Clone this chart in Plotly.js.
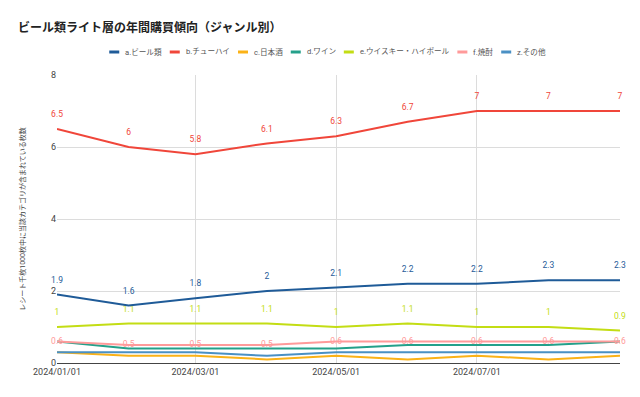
<!DOCTYPE html>
<html>
<head>
<meta charset="utf-8">
<script src="https://cdn.plot.ly/plotly-3.0.1.min.js"></script>
<style>html,body{margin:0;padding:0;background:#fff;}#chart{width:640px;height:397px;}</style>
</head>
<body>
<div id="chart"></div>
<script>
// ---- data ----
const months = ['2024-01-01','2024-02-01','2024-03-01','2024-04-01','2024-05-01','2024-06-01','2024-07-01','2024-08-01','2024-09-01'];
const seriesNames = ['a.ビール類','b.チューハイ','c.日本酒','d.ワイン','e.ウイスキー・ハイボール','f.焼酎','z.その他'];
const beer     = [1.9, 1.6, 1.8, 2, 2.1, 2.2, 2.2, 2.3, 2.3];
const chuhai   = [6.5, 6, 5.8, 6.1, 6.3, 6.7, 7, 7, 7];
const sake     = [0.3, 0.2, 0.2, 0.1, 0.2, 0.1, 0.2, 0.1, 0.2];
const wine     = [0.6, 0.4, 0.4, 0.4, 0.4, 0.5, 0.5, 0.5, 0.6];
const whisky   = [1, 1.1, 1.1, 1.1, 1, 1.1, 1, 1, 0.9];
const shochu   = [0.6, 0.5, 0.5, 0.5, 0.6, 0.6, 0.6, 0.6, 0.6];
const other    = [0.3, 0.3, 0.3, 0.2, 0.3, 0.3, 0.3, 0.3, 0.3];
const xTickVals = ['2024-01-01','2024-03-01','2024-05-01','2024-07-01','2024-09-01'];
const xTickText = ['2024/01/01','2024/03/01','2024/05/01','2024/07/01',''];
const yTickVals = [0, 2, 4, 6, 8];

// ---- style ----
const colors = ['#1f5b98','#f0463a','#fbb217','#24a08a','#c3dd14','#ff9a9a','#4a90c4'];
const showLabels = [true, true, false, false, true, true, false];
const labelPos = ['top center','top center','top center','top center','top center','middle center','top center'];
const FONT = 'Roboto, "Noto Sans CJK JP", sans-serif';
const allValues = [beer, chuhai, sake, wine, whisky, shochu, other];

const M = {l:57, r:20, t:75, b:34};
const W = 640, H = 397;
const plotW = W - M.l - M.r, plotH = H - M.t - M.b;

// draw order: background lines first so labelled ones are on top
const order = [2, 6, 3, 4, 5, 0, 1];
const traces = order.map(i => ({
  type: 'scatter',
  x: months,
  y: allValues[i],
  name: seriesNames[i],
  mode: showLabels[i] ? 'lines+markers+text' : 'lines',
  line: {color: colors[i], width: 2},
  marker: {size: labelPos[i] === 'middle center' ? 0 : 14, color: 'rgba(0,0,0,0)'},
  text: allValues[i].map(v => String(v)),
  textposition: labelPos[i],
  textfont: {family: FONT, size: 8.5, color: colors[i]},
  cliponaxis: false,
  showlegend: false,
  hoverinfo: 'skip'
}));

// ---- custom legend (annotations + short line shapes) ----
const cvs = document.createElement('canvas').getContext('2d');
const legFont = 7.6;
cvs.font = legFont + 'px Roboto, "Noto Sans CJK JP", sans-serif';
const symW = 10, gap1 = 4, gap2 = 10;
const widths = seriesNames.map(n => cvs.measureText(n).width);
const total = widths.reduce((s, w) => s + symW + gap1 + w, 0) + gap2 * (seriesNames.length - 1);
let px = 326.5 - total / 2;
const legY = 52;
const toPX = p => (p - M.l) / plotW;
const toPY = p => (H - M.b - p) / plotH;
const annotations = [], shapes = [];
seriesNames.forEach((n, i) => {
  shapes.push({type:'line', xref:'paper', yref:'paper', x0: toPX(px), x1: toPX(px + symW), y0: toPY(legY), y1: toPY(legY), line:{color: colors[i], width: 3}});
  annotations.push({xref:'paper', yref:'paper', x: toPX(px + symW + gap1), y: toPY(legY), xanchor:'left', yanchor:'middle', showarrow:false, text:n, font:{family: FONT, size: legFont, color:'#555'}});
  px += symW + gap1 + widths[i] + gap2;
});

const layout = {
  width: W, height: H,
  margin: M,
  paper_bgcolor: '#fff', plot_bgcolor: '#fff',
  showlegend: false,
  title: {
    text: 'ビール類ライト層の年間購買傾向（ジャンル別）',
    x: 18 / W, xref: 'container', xanchor: 'left',
    y: 1 - 28 / H, yref: 'container', yanchor: 'middle',
    font: {family: FONT, size: 12, color: '#222', weight: 'bold'}
  },
  xaxis: {
    type: 'date',
    range: ['2024-01-01', '2024-09-01'],
    tickmode: 'array', tickvals: xTickVals, ticktext: xTickText,
    showgrid: true, gridcolor: '#dcdcdc', gridwidth: 1,
    showline: true, linecolor: '#444', linewidth: 1,
    ticks: '', zeroline: false,
    tickfont: {family: FONT, size: 9, color: '#444'}
  },
  yaxis: {
    range: [0, 8],
    tickmode: 'array', tickvals: yTickVals,
    showgrid: true, gridcolor: '#dcdcdc', gridwidth: 1,
    showline: false, zeroline: false, ticks: '',
    tickfont: {family: FONT, size: 9, color: '#444'},
    title: {text: 'レシート千枚1000枚中に当該カテゴリが含まれている枚数', standoff: 24,
            font: {family: FONT, size: 7, color: '#444'}}
  },
  annotations: annotations,
  shapes: shapes
};

Plotly.newPlot('chart', traces, layout, {staticPlot: true, displayModeBar: false});
</script>
</body>
</html>
